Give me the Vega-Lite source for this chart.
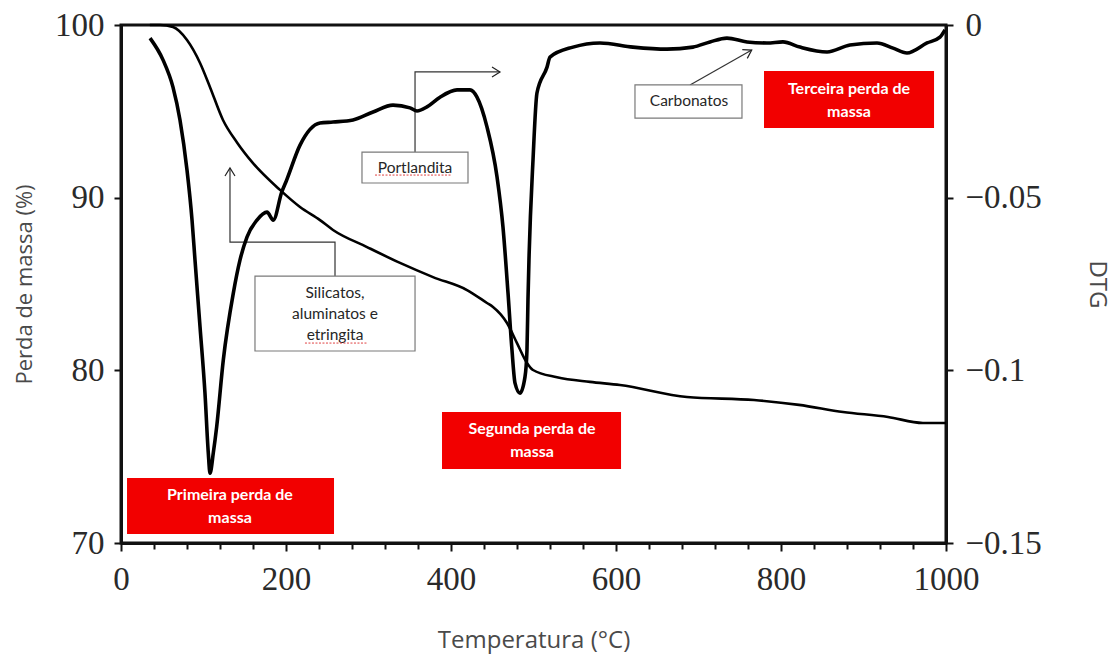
{
  "$schema": "https://vega.github.io/schema/vega-lite/v6.json",
  "width": 825,
  "height": 518,
  "autosize": {"type": "none"},
  "padding": {"left": 121, "top": 25, "right": 169, "bottom": 114},
  "background": "white",
  "config": {
    "view": {"stroke": "#111", "strokeWidth": 3},
    "axis": {"grid": false}
  },
  "datasets": {
    "tg": [
      {"T": 35, "m": 100}, {"T": 47.3, "m": 100}, {"T": 63, "m": 99.88}, {"T": 80, "m": 99.13},
      {"T": 95.8, "m": 97.8}, {"T": 107.9, "m": 96.4}, {"T": 123.6, "m": 94.5}, {"T": 140.6, "m": 93.2},
      {"T": 160, "m": 92.0}, {"T": 192.7, "m": 90.45}, {"T": 217, "m": 89.46}, {"T": 241.2, "m": 88.7},
      {"T": 257, "m": 88.13}, {"T": 298.2, "m": 87.14}, {"T": 338.2, "m": 86.22}, {"T": 378.2, "m": 85.4},
      {"T": 419.4, "m": 84.65}, {"T": 443.6, "m": 83.9}, {"T": 450.9, "m": 83.67}, {"T": 467.9, "m": 82.74},
      {"T": 480, "m": 81.58}, {"T": 492.1, "m": 80.43}, {"T": 499.4, "m": 80.02}, {"T": 528.5, "m": 79.6},
      {"T": 568.5, "m": 79.33}, {"T": 604.8, "m": 79.15}, {"T": 686, "m": 78.46}, {"T": 767.3, "m": 78.28},
      {"T": 821.8, "m": 78.0}, {"T": 875.2, "m": 77.59}, {"T": 929.7, "m": 77.3}, {"T": 972, "m": 76.95},
      {"T": 1000, "m": 76.95}
    ],
    "dtg": [
      {"T": 35.2, "d": -0.0038}, {"T": 50.9, "d": -0.0101}, {"T": 63, "d": -0.018}, {"T": 71.5, "d": -0.0275},
      {"T": 80, "d": -0.042}, {"T": 86.1, "d": -0.0565}, {"T": 89.7, "d": -0.0681}, {"T": 95.8, "d": -0.0874},
      {"T": 101.8, "d": -0.1067}, {"T": 105.8, "d": -0.1239}, {"T": 107.9, "d": -0.1298}, {"T": 111.9, "d": -0.1239},
      {"T": 116, "d": -0.1163}, {"T": 124, "d": -0.097}, {"T": 136.1, "d": -0.0777}, {"T": 144.2, "d": -0.0681},
      {"T": 152.7, "d": -0.0614}, {"T": 164.8, "d": -0.0565}, {"T": 177, "d": -0.0542}, {"T": 184.6, "d": -0.0565},
      {"T": 194.8, "d": -0.0484}, {"T": 200.8, "d": -0.0449}, {"T": 217, "d": -0.0348}, {"T": 241.2, "d": -0.0284},
      {"T": 257, "d": -0.0281}, {"T": 281.2, "d": -0.0275}, {"T": 305.5, "d": -0.0252}, {"T": 329.7, "d": -0.0232},
      {"T": 350.3, "d": -0.024}, {"T": 358.8, "d": -0.0249}, {"T": 370.9, "d": -0.0237}, {"T": 386.7, "d": -0.0209},
      {"T": 407.3, "d": -0.0188}, {"T": 423, "d": -0.0188}, {"T": 431.5, "d": -0.0209}, {"T": 443.6, "d": -0.0295},
      {"T": 455.8, "d": -0.044}, {"T": 463, "d": -0.0585}, {"T": 469.1, "d": -0.0776}, {"T": 473.9, "d": -0.0941},
      {"T": 477.6, "d": -0.1037}, {"T": 483.6, "d": -0.1066}, {"T": 489.7, "d": -0.1019}, {"T": 492.1, "d": -0.0941},
      {"T": 493.3, "d": -0.0796}, {"T": 494.5, "d": -0.0681}, {"T": 499.4, "d": -0.0391}, {"T": 504.2, "d": -0.0197},
      {"T": 516.4, "d": -0.0122}, {"T": 520, "d": -0.0093}, {"T": 547.9, "d": -0.0064}, {"T": 580.6, "d": -0.0052},
      {"T": 620.6, "d": -0.0064}, {"T": 661.8, "d": -0.007}, {"T": 693.3, "d": -0.0064}, {"T": 713.9, "d": -0.0049},
      {"T": 734.5, "d": -0.0038}, {"T": 758.8, "d": -0.0049}, {"T": 783, "d": -0.0052}, {"T": 802.4, "d": -0.0049},
      {"T": 823, "d": -0.0064}, {"T": 855.8, "d": -0.0078}, {"T": 883.6, "d": -0.0058}, {"T": 916.4, "d": -0.0052},
      {"T": 935.8, "d": -0.0067}, {"T": 952.7, "d": -0.0081}, {"T": 977, "d": -0.0052}, {"T": 992.7, "d": -0.0035},
      {"T": 998.8, "d": -0.0014}
    ],
    "stageBoxes": [
      {"T0": 7.3, "T1": 258.2, "m0": 73.77, "m1": 70.52},
      {"T0": 389.1, "T1": 606.1, "m0": 77.59, "m1": 74.29},
      {"T0": 779.4, "T1": 985.5, "m0": 97.34, "m1": 94.03}
    ],
    "stageText": [
      {"T": 132.1, "m": 72.8, "text": "Primeira perda de"},
      {"T": 132.1, "m": 71.47, "text": "massa"},
      {"T": 498.2, "m": 76.6, "text": "Segunda perda de"},
      {"T": 498.2, "m": 75.27, "text": "massa"},
      {"T": 882.4, "m": 96.29, "text": "Terceira perda de"},
      {"T": 882.4, "m": 94.96, "text": "massa"}
    ],
    "noteBoxes": [
      {"T0": 162.4, "T1": 356.4, "m0": 85.46, "m1": 81.12},
      {"T0": 292.1, "T1": 420.6, "m0": 92.64, "m1": 90.85},
      {"T0": 623, "T1": 752.7, "m0": 96.53, "m1": 94.61}
    ],
    "noteText": [
      {"T": 259.4, "m": 84.48, "text": "Silicatos,"},
      {"T": 259.4, "m": 83.26, "text": "aluminatos e"},
      {"T": 259.4, "m": 82.05, "text": "etringita"},
      {"T": 356.4, "m": 91.72, "text": "Portlandita"},
      {"T": 688.5, "m": 95.6, "text": "Carbonatos"}
    ],
    "leaders": [
      {"note": "silicatos", "step": 0, "T": 259.4, "m": 85.46},
      {"note": "silicatos", "step": 1, "T": 259.4, "m": 87.43},
      {"note": "silicatos", "step": 2, "T": 132.1, "m": 87.43},
      {"note": "silicatos", "step": 3, "T": 132.1, "m": 91.72},
      {"note": "portlandita", "step": 0, "T": 356.4, "m": 92.64},
      {"note": "portlandita", "step": 1, "T": 356.4, "m": 97.28},
      {"note": "portlandita", "step": 2, "T": 459.4, "m": 97.28},
      {"note": "carbonatos", "step": 0, "T": 689.7, "m": 96.53},
      {"note": "carbonatos", "step": 1, "T": 764.5, "m": 98.55}
    ],
    "arrowTips": [
      {"T": 132.1, "m": 91.72, "heading": 0},
      {"T": 459.4, "m": 97.28, "heading": 90},
      {"T": 764.5, "m": 98.55, "heading": 60}
    ],
    "spelling": [
      {"T0": 307.9, "T1": 399.4, "m": 91.31},
      {"T0": 223, "T1": 298.2, "m": 81.58}
    ]
  },
  "layer": [
    {
      "layer": [
        {
          "data": {"name": "tg"},
          "mark": {"type": "line", "color": "#000", "strokeWidth": 2.6, "interpolate": "monotone"},
          "encoding": {
            "x": {
              "field": "T", "type": "quantitative",
              "scale": {"domain": [0, 1000], "nice": false, "zero": false},
              "axis": {
                "orient": "bottom",
                "values": [0, 40, 80, 120, 160, 200, 240, 280, 320, 360, 400, 440, 480, 520, 560, 600, 640, 680, 720, 760, 800, 840, 880, 920, 960, 1000],
                "tickCount": 40,
                "format": "d",
                "labelExpr": "datum.value % 200 === 0 ? datum.label : ''",
                "tickSize": {"condition": {"test": "datum.value % 200 === 0", "value": 8}, "value": 6},
                "tickWidth": 2, "tickColor": "#111",
                "domainColor": "#111", "domainWidth": 3,
                "labelFont": "Liberation Serif", "labelFontSize": 33, "labelColor": "#2a2a2a",
                "labelPadding": 12, "labelOverlap": false, "labelFlush": false, "labelBound": false,
                "title": "Temperatura (°C)", "titleFont": "Open Sans", "titleFontSize": 24,
                "titleFontWeight": "normal", "titleColor": "#4a4a4a", "titlePadding": 32
              }
            },
            "y": {
              "field": "m", "type": "quantitative",
              "scale": {"domain": [70, 100], "nice": false, "zero": false},
              "axis": {
                "orient": "left",
                "values": [70, 80, 90, 100],
                "tickSize": 7, "tickWidth": 2, "tickColor": "#111",
                "domainColor": "#111", "domainWidth": 3,
                "labelFont": "Liberation Serif", "labelFontSize": 33, "labelColor": "#2a2a2a",
                "labelPadding": 10, "labelOverlap": false, "labelBound": false,
                "title": "Perda de massa (%)", "titleFont": "Open Sans", "titleFontSize": 22,
                "titleFontWeight": "normal", "titleColor": "#4a4a4a", "titlePadding": 18
              }
            }
          }
        },
        {
          "data": {"name": "leaders"},
          "mark": {"type": "line", "color": "#333", "strokeWidth": 1.2},
          "encoding": {
            "x": {"field": "T", "type": "quantitative", "scale": {"domain": [0, 1000], "nice": false, "zero": false}},
            "y": {"field": "m", "type": "quantitative", "scale": {"domain": [70, 100], "nice": false, "zero": false}},
            "detail": {"field": "note"},
            "order": {"field": "step", "type": "quantitative"}
          }
        },
        {
          "data": {"name": "arrowTips"},
          "mark": {"type": "point", "shape": "M-1,1.6L0,0L1,1.6", "filled": false, "stroke": "#222", "strokeWidth": 1.2, "size": 100, "opacity": 1},
          "encoding": {
            "x": {"field": "T", "type": "quantitative", "scale": {"domain": [0, 1000], "nice": false, "zero": false}},
            "y": {"field": "m", "type": "quantitative", "scale": {"domain": [70, 100], "nice": false, "zero": false}},
            "angle": {"field": "heading", "type": "quantitative", "scale": null}
          }
        },
        {
          "data": {"name": "stageBoxes"},
          "mark": {"type": "rect", "fill": "#f20000"},
          "encoding": {
            "x": {"field": "T0", "type": "quantitative", "scale": {"domain": [0, 1000], "nice": false, "zero": false}},
            "x2": {"field": "T1"},
            "y": {"field": "m0", "type": "quantitative", "scale": {"domain": [70, 100], "nice": false, "zero": false}},
            "y2": {"field": "m1"}
          }
        },
        {
          "data": {"name": "noteBoxes"},
          "mark": {"type": "rect", "fill": "white", "stroke": "#7a7a7a", "strokeWidth": 1.2},
          "encoding": {
            "x": {"field": "T0", "type": "quantitative", "scale": {"domain": [0, 1000], "nice": false, "zero": false}},
            "x2": {"field": "T1"},
            "y": {"field": "m0", "type": "quantitative", "scale": {"domain": [70, 100], "nice": false, "zero": false}},
            "y2": {"field": "m1"}
          }
        },
        {
          "data": {"name": "stageText"},
          "mark": {"type": "text", "font": "Lato", "fontWeight": "bold", "fontSize": 16, "color": "white", "align": "center", "baseline": "middle"},
          "encoding": {
            "x": {"field": "T", "type": "quantitative", "scale": {"domain": [0, 1000], "nice": false, "zero": false}},
            "y": {"field": "m", "type": "quantitative", "scale": {"domain": [70, 100], "nice": false, "zero": false}},
            "text": {"field": "text"}
          }
        },
        {
          "data": {"name": "noteText"},
          "mark": {"type": "text", "font": "Lato", "fontSize": 15.5, "color": "#262626", "align": "center", "baseline": "middle"},
          "encoding": {
            "x": {"field": "T", "type": "quantitative", "scale": {"domain": [0, 1000], "nice": false, "zero": false}},
            "y": {"field": "m", "type": "quantitative", "scale": {"domain": [70, 100], "nice": false, "zero": false}},
            "text": {"field": "text"}
          }
        },
        {
          "data": {"name": "spelling"},
          "mark": {"type": "rule", "color": "#e04040", "strokeWidth": 1, "strokeDash": [2, 1.5]},
          "encoding": {
            "x": {"field": "T0", "type": "quantitative", "scale": {"domain": [0, 1000], "nice": false, "zero": false}},
            "x2": {"field": "T1"},
            "y": {"field": "m", "type": "quantitative", "scale": {"domain": [70, 100], "nice": false, "zero": false}}
          }
        }
      ]
    },
    {
      "data": {"name": "dtg"},
      "mark": {"type": "line", "color": "#000", "strokeWidth": 3.6, "interpolate": "monotone"},
      "encoding": {
        "x": {"field": "T", "type": "quantitative", "scale": {"domain": [0, 1000], "nice": false, "zero": false}},
        "y": {
          "field": "d", "type": "quantitative",
          "scale": {"domain": [-0.15, 0], "nice": false, "zero": false},
          "axis": {
            "orient": "right",
            "values": [-0.15, -0.1, -0.05, 0],
            "format": ".2~f",
            "tickSize": 7, "tickWidth": 2, "tickColor": "#111",
            "domainColor": "#111", "domainWidth": 3,
            "labelFont": "Liberation Serif", "labelFontSize": 33, "labelColor": "#2a2a2a",
            "labelPadding": 12, "labelOverlap": false, "labelBound": false,
            "title": "DTG", "titleFont": "Open Sans", "titleFontSize": 24,
            "titleFontWeight": "normal", "titleColor": "#4a4a4a", "titlePadding": 43
          }
        }
      }
    }
  ],
  "resolve": {"scale": {"y": "independent"}}
}
